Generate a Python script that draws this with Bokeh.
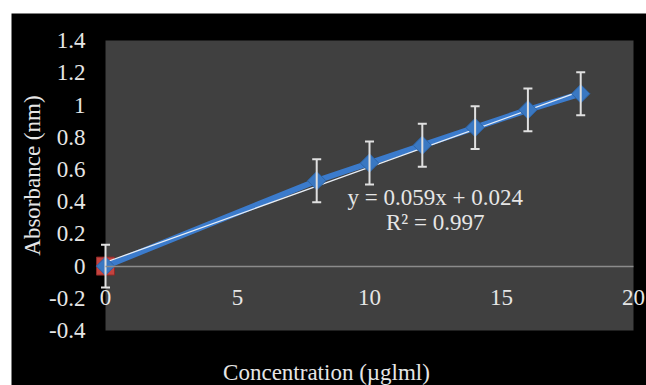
import math
from bokeh.plotting import figure
from bokeh.models import (ColumnDataSource, Range1d, FixedTicker, LinearAxis, Whisker,
                          TeeHead, BoxAnnotation, Label, Spacer)
from bokeh.layouts import row, column
from bokeh.embed import file_html
from bokeh.resources import INLINE

# ---- data ----
concentration = [0, 8, 10, 12, 14, 16, 18]
absorbance = [0.0, 0.53, 0.64, 0.75, 0.86, 0.97, 1.07]
error = [0.133, 0.133, 0.133, 0.133, 0.133, 0.133, 0.133]
blank_x = [0]
blank_y = [0]
slope = 0.059
intercept = 0.024
trend_x = [0, 18]
x_ticks = [0, 5, 10, 15, 20]
y_ticks = [-0.4, -0.2, 0, 0.2, 0.4, 0.6, 0.8, 1, 1.2, 1.4]
y_tick_labels = ["-0.4", "-0.2", "0", "0.2", "0.4", "0.6", "0.8", "1", "1.2", "1.4"]
x_title = "Concentration (\u00b5glml)"
y_title = "Absorbance (nm)"
eq_text = "y = 0.059x + 0.024"
r2_text = "R\u00b2 = 0.997"

FONT = "Liberation Serif"
TXT = "#e6e6e6"
FS = "23px"

src = ColumnDataSource(dict(
    x=concentration, y=absorbance,
    upper=[a + e for a, e in zip(absorbance, error)],
    lower=[a - e for a, e in zip(absorbance, error)],
))

# frame covers the whole canvas; grey plot area is a box from 0..20, -0.4..1.4
p = figure(width=635, height=372, output_backend="svg", toolbar_location=None,
           x_range=Range1d(-3.561, 20.492), y_range=Range1d(-0.741, 1.568),
           x_axis_location=None, y_axis_location=None,
           min_border_left=0, min_border_right=0, min_border_top=0, min_border_bottom=0)
p.background_fill_color = "#000000"
p.border_fill_color = "#000000"
p.outline_line_color = None
p.xgrid.visible = False
p.ygrid.visible = False

p.add_layout(BoxAnnotation(left=0, right=20, bottom=-0.4, top=1.4,
                           fill_color="#404040", fill_alpha=1, line_color=None,
                           level="underlay"))

# y axis at x = 0
yax = LinearAxis(ticker=FixedTicker(ticks=y_ticks), fixed_location=0,
                 major_label_overrides=dict(zip(y_ticks, y_tick_labels)))
yax.axis_line_color = None
yax.major_tick_line_color = None
yax.minor_tick_line_color = None
yax.major_tick_out = 0
yax.major_tick_in = 0
yax.major_label_standoff = 20
yax.major_label_text_font = FONT
yax.major_label_text_font_size = FS
yax.major_label_text_color = TXT
p.add_layout(yax, "left")

# x axis crossing at y = 0
xax = LinearAxis(ticker=FixedTicker(ticks=x_ticks), fixed_location=0, bounds=(0, 20))
xax.axis_line_color = "#8c8c8c"
xax.axis_line_width = 1.5
xax.major_tick_line_color = None
xax.minor_tick_line_color = None
xax.major_tick_out = 0
xax.major_tick_in = 0
xax.major_label_standoff = 24
xax.major_label_text_font = FONT
xax.major_label_text_font_size = FS
xax.major_label_text_color = TXT
p.add_layout(xax, "below")

# error bars
wh = Whisker(source=src, base="x", upper="upper", lower="lower",
             line_color="#e0e0e0", line_width=2,
             upper_head=TeeHead(size=9, line_color="#e0e0e0", line_width=2),
             lower_head=TeeHead(size=9, line_color="#e0e0e0", line_width=2),
             level="glyph")
p.add_layout(wh)

# blank point (red square)
p.scatter(blank_x, blank_y, marker="square", size=18, fill_color="#c4433f",
          line_color="#8a2a28", line_width=1)

# series line
p.line("x", "y", source=src, line_color="#3b7bcc", line_width=6)

# trendline
trend_y = [slope * v + intercept for v in trend_x]
p.line(trend_x, trend_y, line_color="#e8eef6", line_width=1.3)

# markers (diamonds)
p.scatter("x", "y", source=src, marker="square", angle=math.pi / 4, size=13,
          fill_color="#3a78c2", line_color="#2d64a6", line_width=1)

# equation
p.add_layout(Label(x=12.49, y=0.425, text=eq_text, text_font=FONT, text_font_size=FS,
                   text_color=TXT, text_align="center", text_baseline="middle"))
p.add_layout(Label(x=12.49, y=0.27, text=r2_text, text_font=FONT, text_font_size=FS,
                   text_color=TXT, text_align="center", text_baseline="middle"))

# axis titles
p.add_layout(Label(x=8.37, y=-0.66, text=x_title, text_font=FONT, text_font_size=FS,
                   text_color=TXT, text_align="center", text_baseline="alphabetic"))
p.add_layout(Label(x=-2.76, y=0.562, text=y_title, text_font=FONT, text_font_size=FS,
                   text_color=TXT, text_align="center", text_baseline="middle",
                   angle=math.pi / 2))

layout = row(Spacer(width=11), column(Spacer(height=13), p))
open("out.html", "w").write(file_html(layout, INLINE))
